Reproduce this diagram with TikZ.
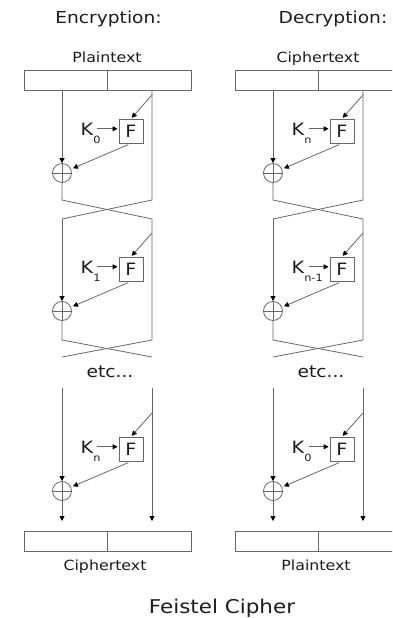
\documentclass[tikz,border=0pt]{standalone}
\usepackage{fontspec}
\setmainfont{DejaVu Sans}[FakeStretch=1.13]
\usetikzlibrary{arrows.meta}
\definecolor{lncol}{HTML}{686868}
\definecolor{txcol}{HTML}{1c1c1c}
\tikzset{
  wire/.style={draw=lncol, line width=0.8pt},
  arr/.style={wire, -{Triangle[length=5pt,width=5pt,color=black]}},
  blk/.style={draw=lncol, line width=0.8pt, minimum width=167pt, minimum height=20pt, inner sep=0pt},
  fbox/.style={draw=lncol, line width=0.8pt, minimum width=24pt, minimum height=24pt, inner sep=0pt, font=\fontsize{17}{17}\selectfont, text=txcol},
  keylbl/.style={inner sep=0pt, font=\fontsize{17}{17}\selectfont, text=txcol, anchor=base west},
  xor/.style={circle, draw=lncol, line width=0.8pt, minimum size=19pt, inner sep=0pt,
    path picture={\draw[lncol, line width=0.8pt] (path picture bounding box.north) -- (path picture bounding box.south)
      (path picture bounding box.west) -- (path picture bounding box.east);}},
  lbl/.style={inner sep=0pt, font=\fontsize{14}{14}\selectfont, text=txcol, anchor=base},
  ttl/.style={inner sep=0pt, font=\fontsize{16.5}{16.5}\selectfont, text=txcol, anchor=base},
}
\newcommand\ksub[1]{\rlap{\smash{\raisebox{-8pt}{\fontsize{10}{10}\selectfont #1}}}}
% #1 prefix, #2 round, #3 F centre y, #4 key subscript, #5 top y
\newcommand\feistround[5]{%
  \coordinate (#1L#2) at (62,#5);
  \coordinate (#1R#2) at (152,#5);
  \coordinate (#1D#2) at (152,{#3-36});
  \node[fbox] (#1F#2) at (131,#3) {F};
  \node[keylbl] (#1K#2) at (80.5,{#3+4}) {K\ksub{#4}};
  \node[xor] (#1X#2) at (62,{#3+42}) {};
  \draw[arr, shorten >=1pt] (#1D#2) -- (#1F#2.north);
  \draw[arr, shorten <=4pt, shorten >=1pt] (#1K#2.east) -- (#1K#2.east -| #1F#2.west);
  \draw[arr, shorten <=3pt, shorten >=2pt] (#1F#2.south) -- (#1X#2);
  \draw[arr] (#1L#2) -- (#1X#2.north);
}
% #1 prefix, #2 shift, #3 top label, #4 bottom label, #5 #6 #7 keys
\newcommand\feistcol[7]{%
\begin{scope}[xshift=#2]
  \node[lbl] (#1Tl) at (107,63) {#3};
  \node[blk] (#1T) at (107.5,80) {};
  \draw[wire] (#1T.north) -- (#1T.south);
  \feistround{#1}{1}{131}{#5}{90}
  \coordinate (#1a1) at (62,200); \coordinate (#1b1) at (152,200);
  \coordinate (#1c1) at (62,219); \coordinate (#1d1) at (152,219);
  \draw[wire] (#1X1.south) -- (#1a1) -- (#1d1);
  \draw[wire] (#1R1) -- (#1b1) -- (#1c1);
  \feistround{#1}{2}{269}{#6}{219}
  \draw[wire] (#1d1) -- (#1R2);
  \coordinate (#1a2) at (62,340); \coordinate (#1b2) at (152,340);
  \coordinate (#1c2) at (62,357); \coordinate (#1d2) at (152,357);
  \draw[wire] (#1X2.south) -- (#1a2) -- (#1d2);
  \draw[wire] (#1R2) -- (#1b2) -- (#1c2);
  \node[ttl] (#1etc) at (110,377) {etc...};
  \feistround{#1}{3}{449}{#7}{388}
  \coordinate (#1e1) at (62,521); \coordinate (#1e2) at (152,521);
  \draw[arr] (#1X3.south) -- (#1e1);
  \draw[arr] (#1R3) -- (#1e2);
  \node[blk] (#1B) at (107.5,541) {};
  \draw[wire] (#1B.north) -- (#1B.south);
  \node[lbl] (#1Bl) at (105,570) {#4};
\end{scope}}
\begin{document}
\begin{tikzpicture}[x=1pt, y=-1pt]
  \useasboundingbox (0,0) rectangle (392,618);
  \clip (0,0) rectangle (392,618);
  \fill[white] (0,0) rectangle (392,618);
  \node[ttl] (enc) at (108.5,24) {Encryption:};
  \node[ttl] (dec) at (333,24) {Decryption:};
  \feistcol{e}{0pt}{Plaintext}{Ciphertext}{0}{1}{n}
  \feistcol{d}{211pt}{Ciphertext}{Plaintext}{n}{n-1}{0}
  \node[inner sep=0pt, font=\fontsize{19}{19}\selectfont, text=txcol, anchor=base] (title) at (222,613) {Feistel Cipher};
\end{tikzpicture}
\end{document}
